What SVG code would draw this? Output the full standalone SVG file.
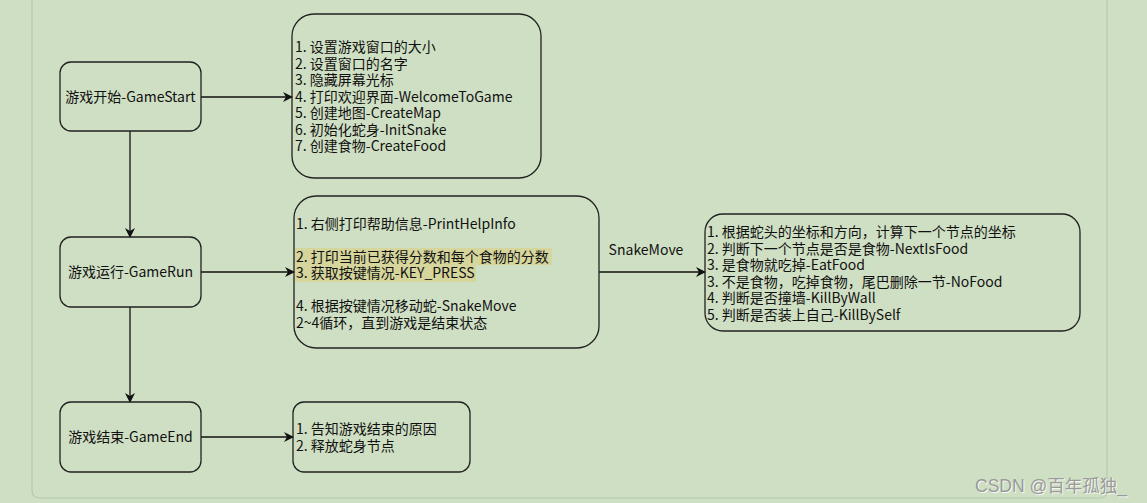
<svg xmlns="http://www.w3.org/2000/svg" width="1147" height="503" viewBox="0 0 1147 503">
<style>
.node{fill:none;stroke:#222;stroke-width:1.3}
.t{font-family:"Noto Sans CJK SC","Noto Sans",sans-serif;font-size:14px;fill:#111}
.lbl{font-family:"Noto Sans CJK SC","Noto Sans",sans-serif;font-size:14px;fill:#111;text-anchor:middle}
.edge{fill:none;stroke:#111;stroke-width:1.3}
.hl{fill:#d5d59c}
.wm{font-family:"Liberation Sans","Noto Sans CJK SC",sans-serif;font-size:17.5px}
</style>
<defs>
<marker id="arr" viewBox="0 0 10 10" refX="9" refY="5" markerWidth="10" markerHeight="10" markerUnits="userSpaceOnUse" orient="auto">
<path d="M0,0 L10,5 L0,10 L3,5 Z" fill="#111"/>
</marker>
</defs>
<rect width="1147" height="503" fill="#cfdfc3"/>
<path d="M32,0 V490 Q32,498 40,498 H1099 Q1107,498 1107,490 V0" fill="none" stroke="#b6c9ae" stroke-width="1.2"/>

<g id="connectors">
<line class="edge" x1="201" y1="97" x2="292" y2="97" marker-end="url(#arr)"/>
<line class="edge" x1="130" y1="131" x2="130" y2="237" marker-end="url(#arr)"/>
<line class="edge" x1="201" y1="272" x2="294" y2="272" marker-end="url(#arr)"/>
<line class="edge" x1="599" y1="272" x2="705" y2="272" marker-end="url(#arr)"/>
<text class="lbl" x="646" y="255">SnakeMove</text>
<line class="edge" x1="130" y1="307" x2="130" y2="402" marker-end="url(#arr)"/>
<line class="edge" x1="201" y1="437" x2="293" y2="437" marker-end="url(#arr)"/>
</g>

<g id="gamestart">
<rect class="node" x="60" y="62" width="141" height="69" rx="11"/>
<text class="lbl" x="130.5" y="102">游戏开始-GameStart</text>
</g>

<g id="startsteps">
<rect class="node" x="292" y="14" width="249" height="164" rx="22"/>
<text class="t" x="295" y="52">1. 设置游戏窗口的大小</text>
<text class="t" x="295" y="69">2. 设置窗口的名字</text>
<text class="t" x="295" y="85">3. 隐藏屏幕光标</text>
<text class="t" x="295" y="102">4. 打印欢迎界面-WelcomeToGame</text>
<text class="t" x="295" y="118">5. 创建地图-CreateMap</text>
<text class="t" x="295" y="135">6. 初始化蛇身-InitSnake</text>
<text class="t" x="295" y="151">7. 创建食物-CreateFood</text>
</g>

<g id="gamerun">
<rect class="node" x="60" y="237" width="141" height="70" rx="11"/>
<text class="lbl" x="130.5" y="277">游戏运行-GameRun</text>
</g>

<g id="runsteps">
<rect class="hl" x="295" y="248" width="257" height="17"/>
<rect class="hl" x="295" y="265" width="181" height="17"/>
<rect class="node" x="294" y="196" width="305" height="152" rx="22"/>
<text class="t" x="296" y="229">1. 右侧打印帮助信息-PrintHelpInfo</text>
<text class="t" x="296" y="262">2. 打印当前已获得分数和每个食物的分数</text>
<text class="t" x="296" y="278">3. 获取按键情况-KEY_PRESS</text>
<text class="t" x="296" y="311">4. 根据按键情况移动蛇-SnakeMove</text>
<text class="t" x="296" y="328">2~4循环，直到游戏是结束状态</text>
</g>

<g id="movesteps">
<rect class="node" x="705" y="214" width="375" height="117" rx="18"/>
<text class="t" x="707" y="237">1. 根据蛇头的坐标和方向，计算下一个节点的坐标</text>
<text class="t" x="707" y="254">2. 判断下一个节点是否是食物-NextIsFood</text>
<text class="t" x="707" y="270">3. 是食物就吃掉-EatFood</text>
<text class="t" x="707" y="287">3. 不是食物，吃掉食物，尾巴删除一节-NoFood</text>
<text class="t" x="707" y="303">4. 判断是否撞墙-KillByWall</text>
<text class="t" x="707" y="320">5. 判断是否装上自己-KillBySelf</text>
</g>

<g id="gameend">
<rect class="node" x="60" y="402" width="141" height="70" rx="11"/>
<text class="lbl" x="130.5" y="442">游戏结束-GameEnd</text>
</g>

<g id="endsteps">
<rect class="node" x="293" y="402" width="177" height="70" rx="11"/>
<text class="t" x="296" y="434">1. 告知游戏结束的原因</text>
<text class="t" x="296" y="451">2. 释放蛇身节点</text>
</g>

<text class="wm" x="976" y="493" fill="#fff" opacity="0.8">CSDN @百年孤独_</text>
<text class="wm" x="975" y="492" fill="#9a9a9a">CSDN @百年孤独_</text>
</svg>
